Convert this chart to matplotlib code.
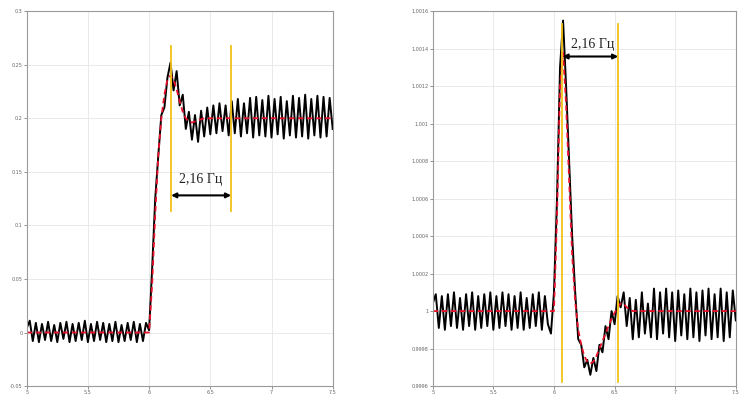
import numpy as np
import matplotlib
matplotlib.use('Agg')
import matplotlib.pyplot as plt

# time axis (step 0.025 s)
t = np.arange(101) * 0.025 + 5.0

# left panel, measured signal
left_signal = [0.004, 0.011, -0.008, 0.009, -0.009, 0.008, -0.007, 0.010, -0.008, 0.007,
               -0.009, 0.009, -0.006, 0.010, -0.009, 0.008, -0.008, 0.009, -0.007, 0.011,
               -0.009, 0.008, -0.008, 0.010, -0.007, 0.009, -0.009, 0.008, -0.008, 0.010,
               -0.009, 0.007, -0.008, 0.009, -0.007, 0.010, -0.009, 0.008, -0.008, 0.009,
               0.002, 0.060, 0.125, 0.165, 0.203, 0.210, 0.238, 0.252, 0.226, 0.244,
               0.212, 0.222, 0.190, 0.206, 0.180, 0.203, 0.178, 0.207, 0.183, 0.210,
               0.185, 0.212, 0.186, 0.214, 0.188, 0.212, 0.184, 0.216, 0.186, 0.218,
               0.183, 0.214, 0.186, 0.219, 0.182, 0.220, 0.184, 0.217, 0.183, 0.221,
               0.182, 0.218, 0.185, 0.220, 0.181, 0.216, 0.184, 0.221, 0.182, 0.219,
               0.183, 0.222, 0.181, 0.218, 0.184, 0.221, 0.182, 0.220, 0.183, 0.219,
               0.190]
# left panel, smoothed curve
left_smooth_t = [5.0, 6.0, 6.025, 6.05, 6.075, 6.1, 6.125, 6.15, 6.175, 6.2, 6.225,
                 6.25, 6.275, 6.3, 6.325, 6.35, 6.4, 6.45, 7.5]
left_smooth_y = [0.0, 0.0, 0.045, 0.11, 0.165, 0.2, 0.222, 0.236, 0.24, 0.236, 0.227,
                 0.216, 0.206, 0.2, 0.197, 0.196, 0.198, 0.2, 0.2]

# right panel, measured signal
right_signal = [1.00004, 1.00009, 0.99991, 1.00008, 0.99990, 1.00009, 0.99992, 1.00010, 0.99991, 1.00007,
                0.99990, 1.00009, 0.99992, 1.00010, 0.99990, 1.00008, 0.99991, 1.00009, 0.99992, 1.00010,
                0.99990, 1.00008, 0.99991, 1.00010, 0.99992, 1.00009, 0.99990, 1.00008, 0.99991, 1.00010,
                0.99990, 1.00007, 0.99991, 1.00009, 0.99992, 1.00010, 0.99990, 1.00008, 0.99993, 0.99988,
                1.00010, 1.00060, 1.00130, 1.00155, 1.00120, 1.00080, 1.00040, 1.00010, 0.99985, 0.99982,
                0.99970, 0.99974, 0.99966, 0.99975, 0.99968, 0.99982, 0.99978, 0.99992, 0.99985, 1.00000,
                0.99993, 1.00008, 1.00002, 1.00010, 0.99992, 1.00007, 0.99985, 1.00006, 0.99986, 1.00010,
                0.99988, 1.00004, 0.99986, 1.00012, 0.99985, 1.00010, 0.99988, 1.00012, 0.99986, 1.00010,
                0.99984, 1.00011, 0.99987, 1.00009, 0.99985, 1.00012, 0.99986, 1.00010, 0.99984, 1.00011,
                0.99987, 1.00012, 0.99985, 1.00009, 0.99986, 1.00012, 0.99984, 1.00010, 0.99986, 1.00011,
                0.99995]
# right panel, smoothed curve
right_smooth_t = [5.0, 6.0, 6.025, 6.05, 6.075, 6.1, 6.125, 6.15, 6.175, 6.2, 6.225, 6.25,
                  6.275, 6.3, 6.325, 6.35, 6.375, 6.4, 6.425, 6.45, 6.475, 6.5, 6.525,
                  6.55, 6.575, 6.6, 6.65, 7.5]
right_smooth_y = [1.0, 1.0, 1.0005, 1.0012, 1.00138, 1.0011, 1.0007, 1.0003, 1.00005, 0.9999,
                  0.99982, 0.99976, 0.99973, 0.99972, 0.99973, 0.99976, 0.9998, 0.99984,
                  0.99988, 0.99992, 0.99996, 0.99999, 1.00002, 1.00004, 1.00004, 1.00002,
                  1.0, 1.0]

xticks = [5, 5.5, 6, 6.5, 7, 7.5]
xlabels = ['5', '5.5', '6', '6.5', '7', '7.5']
left_yticks = [-0.05, 0, 0.05, 0.1, 0.15, 0.2, 0.25, 0.3]
left_ylabels = ['-0.05', '0', '0.05', '0.1', '0.15', '0.2', '0.25', '0.3']
right_yticks = [0.9996, 0.9998, 1.0, 1.0002, 1.0004, 1.0006, 1.0008, 1.001, 1.0012, 1.0014, 1.0016]
right_ylabels = ['0.9996', '0.9998', '1', '1.0002', '1.0004', '1.0006', '1.0008', '1.001',
                 '1.0012', '1.0014', '1.0016']

# markers: yellow lines and arrow
left_marks = [6.18, 6.67]
right_marks = [6.07, 6.53]
freq_label = '2,16 Гц'

fig = plt.figure(figsize=(7.41, 3.98), dpi=100)
ax1 = fig.add_axes([0.036, 0.03, 0.413, 0.942])
ax2 = fig.add_axes([0.584, 0.03, 0.409, 0.942])

gold = '#f2c318'


def style(ax, yticks, ylabels):
    ax.set_xticks(xticks)
    ax.set_xticklabels(xlabels)
    ax.set_yticks(yticks)
    ax.set_yticklabels(ylabels)
    ax.tick_params(labelsize=3.5, colors='#666666', length=2, width=0.5, pad=1)
    ax.grid(True, color='#e6e6e6', linewidth=0.6)
    ax.set_axisbelow(True)
    for s in ax.spines.values():
        s.set_color('#9a9a9a')
        s.set_linewidth(0.8)


ax1.plot(t, left_signal, color='black', lw=1.4)
ax1.plot(left_smooth_t, left_smooth_y, color='#e8102a', lw=1.3, ls=(0, (3, 2)))
ax1.set_xlim(5, 7.5)
ax1.set_ylim(-0.05, 0.3)
style(ax1, left_yticks, left_ylabels)
for m in left_marks:
    ax1.plot([m, m], [0.113, 0.267], color=gold, lw=1.3)
ax1.annotate('', xy=(left_marks[1], 0.128), xytext=(left_marks[0], 0.128),
             arrowprops=dict(arrowstyle='<|-|>', color='black', lw=1.5, mutation_scale=7,
                             shrinkA=0, shrinkB=0))
ax1.text(sum(left_marks) / 2, 0.137, freq_label, family='Liberation Serif', fontsize=10,
         ha='center', va='bottom', color='#222222')

ax2.plot(t, right_signal, color='black', lw=1.4)
ax2.plot(right_smooth_t, right_smooth_y, color='#e8102a', lw=1.3, ls=(0, (3, 2)))
ax2.set_xlim(5, 7.5)
ax2.set_ylim(0.9996, 1.0016)
style(ax2, right_yticks, right_ylabels)
for m in right_marks:
    ax2.plot([m, m], [0.99962, 1.00153], color=gold, lw=1.3)
ax2.annotate('', xy=(right_marks[1], 1.001358), xytext=(right_marks[0], 1.001358),
             arrowprops=dict(arrowstyle='<|-|>', color='black', lw=1.5, mutation_scale=7,
                             shrinkA=0, shrinkB=0))
ax2.text(sum(right_marks) / 2 + 0.02, 1.00139, freq_label, family='Liberation Serif', fontsize=10,
         ha='center', va='bottom', color='#222222')

fig.savefig('out.png', dpi=100)
